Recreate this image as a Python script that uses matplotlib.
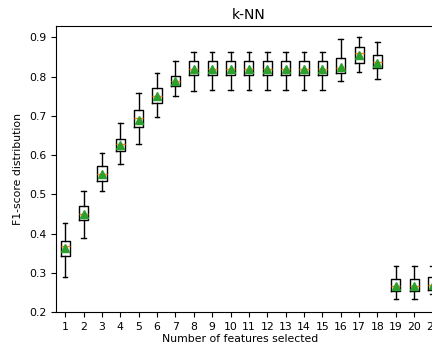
import matplotlib
matplotlib.use('Agg')
import matplotlib.pyplot as plt
import numpy as np

plt.rcParams['font.size'] = 7.8

# five-number summaries + mean of the F1 score per number of features
n_features = list(range(1, 22))
whis_lo = [0.288, 0.388, 0.508, 0.578, 0.628, 0.696, 0.751, 0.764, 0.766, 0.766, 0.766, 0.766,
           0.766, 0.766, 0.766, 0.790, 0.813, 0.794, 0.233, 0.233, 0.245]
q1 = [0.343, 0.435, 0.533, 0.611, 0.671, 0.732, 0.775, 0.805, 0.805, 0.805, 0.805, 0.805,
      0.805, 0.805, 0.805, 0.810, 0.836, 0.822, 0.254, 0.254, 0.256]
med = [0.367, 0.449, 0.552, 0.628, 0.694, 0.751, 0.789, 0.820, 0.820, 0.820, 0.820, 0.820,
       0.820, 0.820, 0.820, 0.822, 0.860, 0.837, 0.266, 0.266, 0.268]
q3 = [0.382, 0.469, 0.571, 0.641, 0.715, 0.771, 0.803, 0.840, 0.840, 0.840, 0.840, 0.840,
      0.840, 0.840, 0.840, 0.847, 0.875, 0.856, 0.283, 0.283, 0.288]
whis_hi = [0.428, 0.509, 0.605, 0.681, 0.759, 0.809, 0.840, 0.862, 0.864, 0.864, 0.864, 0.864,
           0.864, 0.864, 0.864, 0.896, 0.901, 0.888, 0.317, 0.317, 0.317]
means = [0.362, 0.450, 0.552, 0.625, 0.690, 0.750, 0.790, 0.820, 0.820, 0.820, 0.820, 0.820,
         0.820, 0.820, 0.820, 0.825, 0.855, 0.835, 0.266, 0.266, 0.268]

stats = []
for i in range(len(n_features)):
    stats.append({'med': med[i], 'q1': q1[i], 'q3': q3[i],
                  'whislo': whis_lo[i], 'whishi': whis_hi[i],
                  'mean': means[i], 'fliers': [], 'label': str(n_features[i])})

fig = plt.figure(figsize=(4.32, 3.47), dpi=100)
ax = fig.add_axes([0.1296, 0.1009, 0.893, 0.825])
ax.bxp(stats, positions=n_features, showmeans=True, widths=0.5)
ax.set_xlim(0.5, 21.5)
ax.set_ylim(0.2, 0.93)
ax.set_title('k-NN', fontsize=10, pad=5)
ax.set_xlabel('Number of features selected')
ax.xaxis.set_label_coords(0.477, -0.078)
ax.set_ylabel('F1-score distribution')

fig.savefig('out.png', dpi=100)
